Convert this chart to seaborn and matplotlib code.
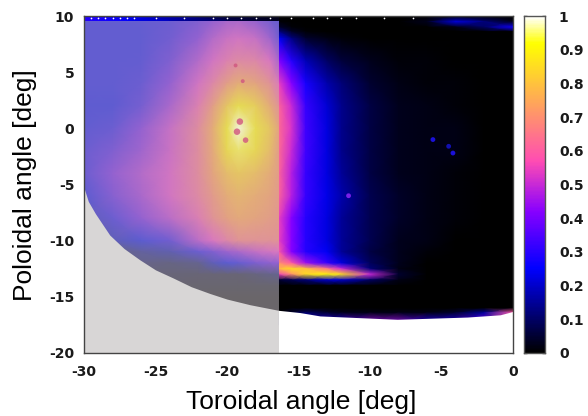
import numpy as np
import matplotlib
matplotlib.use("Agg")
import matplotlib.pyplot as plt
from matplotlib.colors import LinearSegmentedColormap
import seaborn as sns

# values
right_x = [-16.4, -15.5, -14.5, -13, -12, -10, -8, -6, -4, -2, 0]
right_y = [10, 9.5, 9, 8.6, 8, 6, 4, 2, 0, -2, -4, -6, -8, -10, -11, -12, -12.5, -13, -13.5, -14, -16, -16.4, -17.5]
right_values = [
    [0, 0, 0, 0, 0, 0, 0, 0, 0, 0, 0],
    [.01, 0, 0, 0, 0, 0, 0, .03, .22, .12, .02],
    [.05, .01, 0, 0, 0, 0, 0, 0, .02, .1, .27],
    [.13, .04, .01, 0, 0, 0, 0, 0, 0, 0, 0],
    [.25, .13, .05, .02, .01, 0, 0, 0, 0, 0, 0],
    [.42, .3, .18, .1, .06, .03, .01, .01, 0, 0, 0],
    [.55, .42, .28, .17, .12, .05, .02, .01, .01, 0, 0],
    [.62, .5, .32, .21, .14, .07, .03, .02, .01, 0, 0],
    [.63, .52, .33, .22, .14, .07, .03, .02, .02, 0, 0],
    [.63, .5, .33, .22, .14, .07, .03, .02, .02, 0, 0],
    [.62, .48, .32, .22, .15, .07, .03, .02, .01, 0, 0],
    [.62, .48, .32, .23, .17, .08, .04, .02, .01, 0, 0],
    [.55, .42, .3, .22, .15, .08, .04, .02, .01, 0, 0],
    [.55, .42, .3, .22, .15, .08, .03, .02, 0, 0, 0],
    [.6, .42, .3, .24, .15, .07, .03, .01, 0, 0, 0],
    [.7, .6, .45, .32, .22, .09, .03, 0, 0, 0, 0],
    [.78, .85, .8, .65, .5, .12, .02, 0, 0, 0, 0],
    [.55, .7, .85, .9, .85, .5, .05, 0, 0, 0, 0],
    [.05, .08, .12, .2, .2, .1, .02, 0, 0, 0, 0],
    [0, 0, 0, 0, 0, 0, 0, 0, 0, 0, 0],
    [0, 0, 0, 0, 0, 0, 0, 0, 0, 0, 0],
    [0, .05, .1, .05, .03, .02, .02, .02, .05, .15, .6],
    [.2, .25, .3, .3, .3, .45, .45, .3, .3, .45, .65],
]

left_x = [-30, -28, -26, -24, -22, -21, -20, -19.2, -18, -17, -16.4]
left_y = [9.6, 8, 6, 4, 2, 0, -2, -4, -6, -8, -10, -11, -12, -13, -14, -15, -16.5]
left_values = [
    [.27, .27, .28, .3, .36, .42, .47, .48, .42, .33, .28],
    [.27, .27, .27, .32, .42, .5, .56, .58, .55, .45, .33],
    [.27, .27, .28, .36, .5, .58, .64, .67, .66, .6, .48],
    [.27, .27, .3, .42, .58, .66, .74, .78, .76, .7, .62],
    [.26, .26, .33, .48, .64, .74, .84, .9, .86, .78, .7],
    [.27, .3, .42, .55, .68, .78, .9, 1, .9, .84, .76],
    [.3, .36, .45, .56, .68, .77, .88, .92, .88, .82, .74],
    [.3, .42, .5, .58, .68, .76, .82, .84, .82, .78, .74],
    [.25, .38, .48, .58, .67, .73, .78, .8, .78, .76, .73],
    [.2, .3, .42, .52, .63, .7, .75, .77, .76, .74, .72],
    [.1, .2, .25, .32, .52, .6, .66, .7, .7, .7, .7],
    [0, .08, .15, .18, .3, .36, .44, .48, .54, .58, .6],
    [0, .05, .1, .08, .12, .2, .25, .28, .35, .4, .42],
    [0, 0, .05, .05, .04, .04, .04, .04, .07, .1, .12],
    [0, 0, .03, .03, .02, .02, .02, .02, .02, .02, .02],
    [0, 0, .03, .03, .02, 0, 0, 0, 0, 0, 0],
    [0, 0, 0, 0, 0, 0, 0, 0, 0, 0, 0],
]

strip_x = [-30, -27, -24, -20, -16.4]
strip_y = [10, 9.6]
strip_values = [[.3, .22, .15, .05, .02], [.3, .25, .18, .08, .03]]

edge_x = [-30, -29.7, -29.2, -28.2, -27.2, -26.1, -25, -23.8, -22.5, -21.2, -20, -18.4, -16.4, -14.9, -13.5, -8.1, -3.2, -0.9, 0]
edge_y = [-5.3, -6.5, -7.6, -9.5, -10.7, -11.7, -12.6, -13.3, -14.1, -14.7, -15.2, -15.7, -16.2, -16.4, -16.7, -17.0, -16.8, -16.6, -16.3]

spot_x = [-19.1, -19.3, -18.7, -19.4, -18.9]
spot_y = [0.6, -0.3, -1.05, 5.6, 4.2]
blue_spot_x = [-5.6, -4.5, -4.2, -11.5]
blue_spot_y = [-1.0, -1.6, -2.2, -6.0]
blue_spot_c = ["#1a10d8", "#1210b0", "#1a10d8", "#7a20e8"]
top_dot_x = [-29.5, -29, -28.5, -28, -27.5, -27, -26.5, -25, -23, -21, -20, -19, -18, -17, -15.5, -14, -13, -12, -11, -9, -7]

x_ticks = [-30, -25, -20, -15, -10, -5, 0]
y_ticks = [-20, -15, -10, -5, 0, 5, 10]
bar_ticks = [0, .1, .2, .3, .4, .5, .6, .7, .8, .9, 1]
bar_labels = ["0", "0.1", "0.2", "0.3", "0.4", "0.5", "0.6", "0.7", "0.8", "0.9", "1"]

# gnuplot's black-blue-violet-yellow-white palette
s = np.linspace(0, 1, 256)
r = np.clip(s / 0.32 - 0.78125, 0, 1)
g = np.clip(2 * s - 0.84, 0, 1)
b = np.where(s < .25, 4 * s, np.where(s < .42, 1.0, np.where(s < .92, -2 * s + 1.84, s / .08 - 11.5)))
b = np.clip(b, 0, 1)
hot = LinearSegmentedColormap.from_list("pm3d", np.column_stack([r, g, b]))

washed = LinearSegmentedColormap.from_list("washed", [
    (0, "#6a666a"), (.12, "#666490"), (.25, "#5c5cd0"), (.42, "#9462d0"),
    (.6, "#d878c0"), (.75, "#e2a084"), (.9, "#e6dc50"), (1, "#f2f2dc"),
])

sns.set_theme(style="white")
plt.rcParams["font.family"] = "DejaVu Sans"
plt.rcParams["axes.unicode_minus"] = False

fig = plt.figure(figsize=(5.88, 4.16), dpi=100)
ax = fig.add_axes([84 / 588, 1 - 353 / 416, 429 / 588, 337 / 416])
cax = fig.add_axes([524 / 588, 1 - 353 / 416, 21 / 588, 337 / 416])

ax.axvspan(-30, -16.4, color="#d8d6d6", lw=0, zorder=0)
ax.pcolormesh(right_x, right_y, np.array(right_values), cmap=hot, vmin=0, vmax=1, shading="gouraud", zorder=1)
ax.pcolormesh(left_x, left_y, np.array(left_values), cmap=washed, vmin=0, vmax=1, shading="gouraud", zorder=1)
ax.pcolormesh(strip_x, strip_y, np.array(strip_values), cmap=hot, vmin=0, vmax=1, shading="gouraud", zorder=1)

# area below the data edge
split = edge_x.index(-16.4)
ax.fill_between(edge_x[:split + 1], edge_y[:split + 1], -20, color="#d8d6d6", lw=0, zorder=2)
ax.fill_between(edge_x[split:], edge_y[split:], -20, color="white", lw=0, zorder=2)

sns.scatterplot(x=spot_x, y=spot_y, ax=ax, s=[22, 22, 16, 8, 8], color="#d0557f", alpha=.8, linewidth=0, zorder=3, legend=False)
sns.scatterplot(x=blue_spot_x, y=blue_spot_y, ax=ax, s=12, hue=blue_spot_x, palette=dict(zip(blue_spot_x, blue_spot_c)),
                linewidth=0, zorder=3, legend=False)
sns.scatterplot(x=top_dot_x, y=[9.85] * len(top_dot_x), ax=ax, s=1.5, color="white", linewidth=0, zorder=3, legend=False)

ax.set_xlim(-30, 0)
ax.set_ylim(-20, 10)
ax.set_xticks(x_ticks)
ax.set_yticks(y_ticks)
ax.tick_params(direction="in", length=4, width=1, color="#333333", labelsize=10)
ax.tick_params(axis="x", pad=9)
ax.tick_params(axis="y", pad=7)
for lab in ax.get_xticklabels() + ax.get_yticklabels():
    lab.set_fontweight("bold")
    lab.set_color("#1a1a1a")
for sp in ax.spines.values():
    sp.set_color("#444444")
    sp.set_linewidth(1)
    sp.set_visible(True)

fig.text(301 / 588, 1 - 402 / 416, "Toroidal angle [deg]", family="Liberation Sans", fontsize=19, ha="center", va="center", color="black")
fig.text(25 / 588, 1 - 185 / 416, "Poloidal angle [deg]", family="Liberation Sans", fontsize=19, ha="center", va="center", rotation=90, color="black")

# colour bar
levels = np.linspace(1, 0, 256)[:, None]
sns.heatmap(levels, ax=cax, cmap=hot, vmin=0, vmax=1, cbar=False, xticklabels=False, yticklabels=False)
cax.set_yticks([(1 - v) * 256 for v in bar_ticks])
cax.set_yticklabels(bar_labels, fontweight="bold", fontsize=10, color="#1a1a1a", rotation=0)
cax.tick_params(axis="y", direction="in", length=2, width=1, color="#222222", left=True, right=True,
                labelleft=False, labelright=True, pad=10)
for sp in cax.spines.values():
    sp.set_visible(True)
    sp.set_color("#555555")
    sp.set_linewidth(1)

fig.savefig("out.png", dpi=100)
